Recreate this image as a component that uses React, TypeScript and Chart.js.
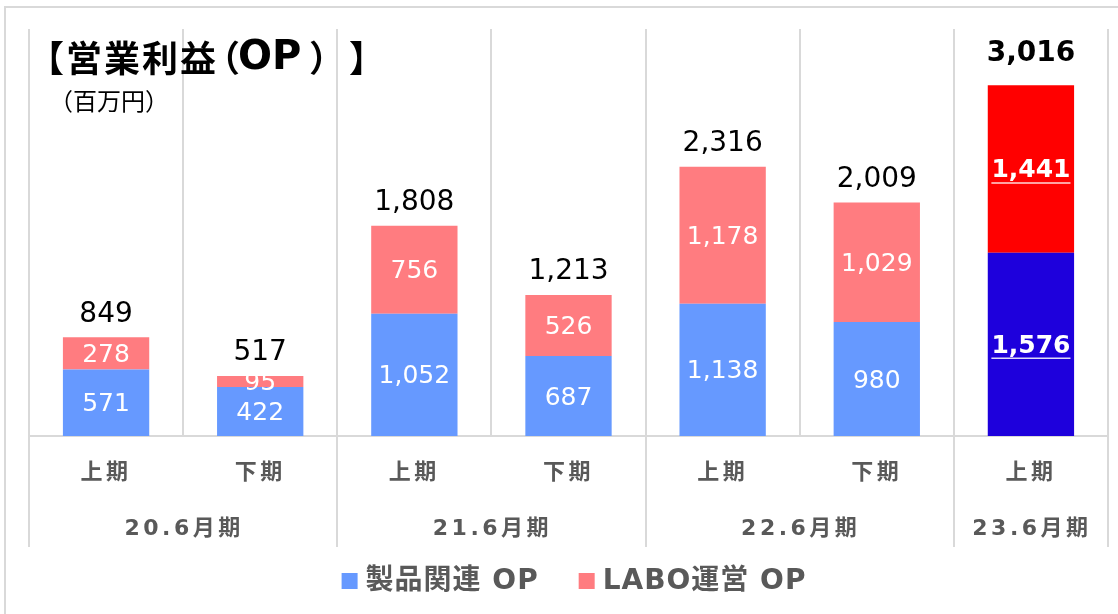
import React, { useEffect, useRef } from "react";
import { Chart, registerables } from "chart.js";

Chart.register(...registerables);

const W = 1118;
const H = 614;

const periods = ["上期", "下期", "上期", "下期", "上期", "下期", "上期"];
const fiscalYears = ["20.6月期", "21.6月期", "22.6月期", "23.6月期"];
const fiscalSpans = [2, 2, 2, 1];
const productOP = [571, 422, 1052, 687, 1138, 980, 1576];
const laboOP = [278, 95, 756, 526, 1178, 1029, 1441];
const totals = [849, 517, 1808, 1213, 2316, 2009, 3016];
const seriesNames = ["製品関連 OP", "LABO運営 OP"];
const yMax = 3500;

const productColors = ["#6699FF", "#6699FF", "#6699FF", "#6699FF", "#6699FF", "#6699FF", "#1E00DC"];
const laboColors = ["#FF7C80", "#FF7C80", "#FF7C80", "#FF7C80", "#FF7C80", "#FF7C80", "#FF0000"];
const highlightIndex = 6;

const FONT = '"DejaVu Sans", "Noto Sans CJK JP", sans-serif';
const CJK = '"Noto Sans CJK JP", "DejaVu Sans", sans-serif';
const GRID = "#d9d9d9";
const AXIS_TEXT = "#595959";
const fmt = (v: number) => v.toLocaleString("en-US");

// draw characters one by one so full-width punctuation keeps its full width
function drawChars(ctx: CanvasRenderingContext2D, text: string, x: number, y: number, extra = 0) {
  let cx = x;
  for (const ch of Array.from(text)) {
    ctx.fillText(ch, cx, y);
    cx += ctx.measureText(ch).width + extra;
  }
  return cx;
}

const overlay = {
  id: "overlay",
  beforeDatasetsDraw(chart: any) {
    const { ctx, chartArea: a, scales } = chart;
    const x = scales.x;
    const y = scales.y;
    const n = periods.length;
    const step = (a.right - a.left) / n;
    const base = y.getPixelForValue(0);
    const groupBounds = new Set<number>([0]);
    let acc = 0;
    fiscalSpans.forEach((s) => {
      acc += s;
      groupBounds.add(acc);
    });
    ctx.save();
    ctx.strokeStyle = GRID;
    ctx.lineWidth = 2;
    ctx.strokeRect(5, 7, W + 20, H + 20);
    for (let i = 0; i <= n; i++) {
      const bx = i < n ? x.getPixelForValue(i) - step / 2 : x.getPixelForValue(n - 1) + step / 2;
      const bottom = groupBounds.has(i) ? 547 : base;
      ctx.beginPath();
      ctx.moveTo(Math.round(bx), a.top);
      ctx.lineTo(Math.round(bx), bottom);
      ctx.stroke();
    }
    ctx.beginPath();
    ctx.moveTo(a.left, base);
    ctx.lineTo(a.right, base);
    ctx.stroke();
    ctx.restore();
  },
  afterDatasetsDraw(chart: any) {
    const { ctx, chartArea: a, scales } = chart;
    const x = scales.x;
    const n = periods.length;
    const step = (a.right - a.left) / n;
    ctx.save();

    // segment labels
    [0, 1].forEach((di) => {
      const meta = chart.getDatasetMeta(di);
      const vals = di === 0 ? productOP : laboOP;
      meta.data.forEach((el: any, i: number) => {
        const cy = (el.y + el.base) / 2 + 2;
        const hl = i === highlightIndex;
        ctx.font = `${hl ? "bold " : ""}25px ${FONT}`;
        ctx.fillStyle = "#ffffff";
        ctx.textAlign = "center";
        ctx.textBaseline = "middle";
        const t = fmt(vals[i]);
        ctx.fillText(t, el.x, cy);
        if (hl) {
          const w = ctx.measureText(t).width;
          ctx.strokeStyle = "rgba(255,255,255,0.85)";
          ctx.lineWidth = 1.5;
          ctx.beginPath();
          ctx.moveTo(el.x - w / 2, cy + 12);
          ctx.lineTo(el.x + w / 2, cy + 12);
          ctx.stroke();
        }
      });
    });

    // totals
    const topMeta = chart.getDatasetMeta(1);
    topMeta.data.forEach((el: any, i: number) => {
      const hl = i === highlightIndex;
      ctx.font = `${hl ? "bold " : ""}28px ${FONT}`;
      ctx.fillStyle = "#000000";
      ctx.textAlign = "center";
      ctx.textBaseline = "middle";
      ctx.fillText(fmt(totals[i]), el.x, el.y - (hl ? 31 : 23));
    });

    // period labels
    ctx.fillStyle = AXIS_TEXT;
    ctx.textAlign = "center";
    ctx.textBaseline = "middle";
    ctx.font = `bold 22px ${FONT}`;
    (ctx as any).letterSpacing = "3.5px";
    periods.forEach((p, i) => {
      ctx.fillText(p, x.getPixelForValue(i), 473);
    });
    // fiscal year labels
    let start = 0;
    fiscalYears.forEach((g, gi) => {
      const end = start + fiscalSpans[gi];
      const left = a.left + start * step;
      const right = a.left + end * step;
      ctx.fillText(g, (left + right) / 2 + 1, 529);
      start = end;
    });

    // legend
    ctx.font = `bold 28px ${FONT}`;
    (ctx as any).letterSpacing = "1px";
    ctx.textAlign = "left";
    const box = 16;
    const gapBox = 8;
    const gapItem = 40;
    const widths = seriesNames.map((s) => ctx.measureText(s).width);
    const total = widths.reduce((s, w) => s + box + gapBox + w, 0) + gapItem;
    let lx = 574 - total / 2;
    const ly = 581;
    seriesNames.forEach((s, i) => {
      ctx.fillStyle = i === 0 ? productColors[0] : laboColors[0];
      ctx.fillRect(lx, ly - box / 2, box, box);
      ctx.fillStyle = AXIS_TEXT;
      ctx.fillText(s, lx + box + gapBox, ly + 1);
      lx += box + gapBox + widths[i] + gapItem;
    });
    (ctx as any).letterSpacing = "0px";

    // title
    ctx.fillStyle = "#000000";
    ctx.textAlign = "left";
    ctx.textBaseline = "middle";
    ctx.font = `bold 36px ${CJK}`;
    drawChars(ctx, "【営業利益", 28, 58, 2);
    ctx.fillText("（", 204, 58);
    ctx.font = `bold 40px ${FONT}`;
    ctx.fillText("OP", 238, 59);
    ctx.font = `bold 36px ${CJK}`;
    ctx.fillText("）", 309, 58);
    ctx.fillText("】", 349, 58);

    ctx.font = `24px ${CJK}`;
    drawChars(ctx, "（百万円）", 49, 101, 0);

    ctx.restore();
  },
};

export default function App() {
  const ref = useRef<HTMLCanvasElement>(null);
  useEffect(() => {
    const chart = new Chart(ref.current as HTMLCanvasElement, {
      type: "bar",
      data: {
        labels: periods,
        datasets: [
          {
            label: seriesNames[0],
            data: productOP,
            backgroundColor: productColors,
            barPercentage: 0.56,
            categoryPercentage: 1,
          },
          {
            label: seriesNames[1],
            data: laboOP,
            backgroundColor: laboColors,
            barPercentage: 0.56,
            categoryPercentage: 1,
          },
        ],
      },
      options: {
        responsive: false,
        animation: false,
        devicePixelRatio: 1,
        layout: { padding: { left: 29, right: 10, top: 29, bottom: 178 } },
        scales: {
          x: { display: false, stacked: true },
          y: { display: false, stacked: true, min: 0, max: yMax },
        },
        plugins: {
          legend: { display: false },
          tooltip: { enabled: false },
        },
      },
      plugins: [overlay],
    });
    return () => chart.destroy();
  }, []);
  return (
    <div style={{ position: "absolute", left: 0, top: 0, width: W, height: H, background: "#fff" }}>
      <canvas ref={ref} width={W} height={H} style={{ display: "block", width: W, height: H }} />
    </div>
  );
}
